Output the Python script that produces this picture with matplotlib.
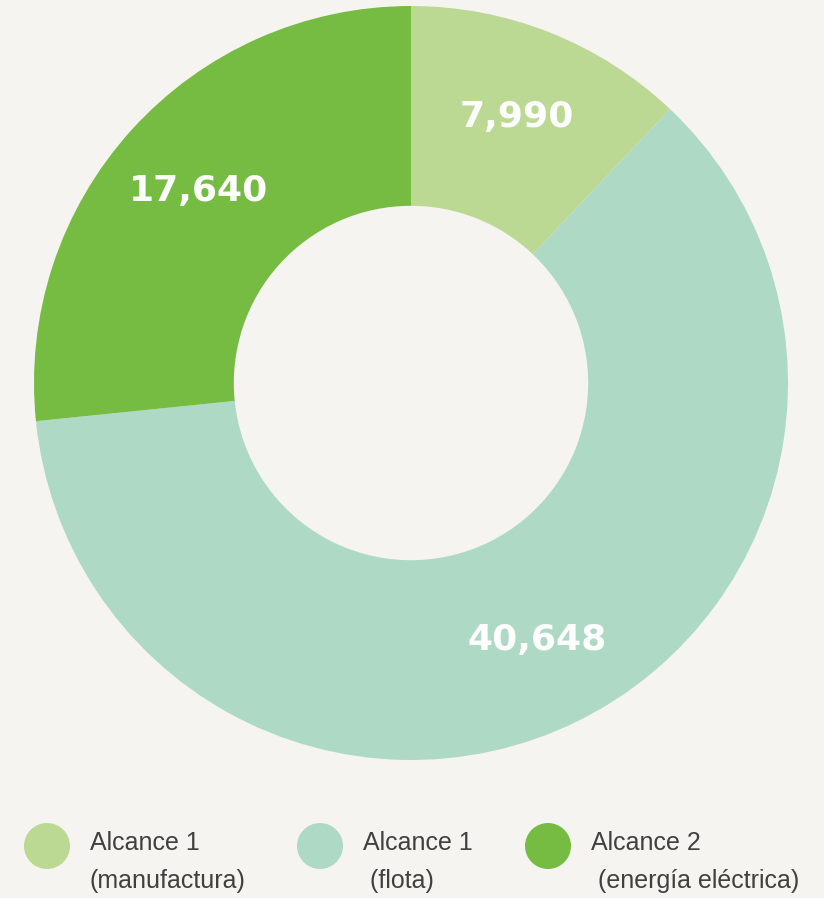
import matplotlib.pyplot as plt
import numpy as np
from matplotlib.patches import Circle

# Emisiones por alcance
categorias = ["Alcance 1\n(manufactura)", "Alcance 1\n (flota)", "Alcance 2\n (energía eléctrica)"]
valores = [7990, 40648, 17640]
colores = ["#bcd994", "#aed9c5", "#77bc42"]
fondo = "#f5f4f0"

fig = plt.figure(figsize=(8.24, 8.98), dpi=100, facecolor=fondo)

# Dona
ax = fig.add_axes([34 / 824, 138 / 898, 754 / 824, 754 / 898])
ax.set_facecolor(fondo)
wedges, _ = ax.pie(valores, colors=colores, startangle=90, counterclock=False,
                   radius=1.0, wedgeprops=dict(width=0.53, linewidth=0))
ax.set_xlim(-1, 1)
ax.set_ylim(-1, 1)
ax.set_aspect("equal")
ax.axis("off")

# Etiquetas de valor dentro de cada segmento
for w, v in zip(wedges, valores):
    ang = np.deg2rad((w.theta1 + w.theta2) / 2)
    r = 0.76
    ax.text(r * np.cos(ang), r * np.sin(ang), f"{v:,}", ha="center", va="center",
            color="white", fontsize=26, fontweight="bold", family="DejaVu Sans")

# Leyenda
lax = fig.add_axes([0, 0, 1, 138 / 898])
lax.set_xlim(0, 824)
lax.set_ylim(898, 760)
lax.set_aspect("equal")
lax.axis("off")
leyenda_x = [47, 320, 548]
for x, c, t in zip(leyenda_x, colores, categorias):
    lax.add_patch(Circle((x, 846), 23, color=c, lw=0))
    lax.text(x + 43, 862, t, ha="left", va="center", fontsize=18,
             color="#404040", family="Liberation Sans", linespacing=1.7)

fig.savefig("out.png", dpi=100, facecolor=fondo)
